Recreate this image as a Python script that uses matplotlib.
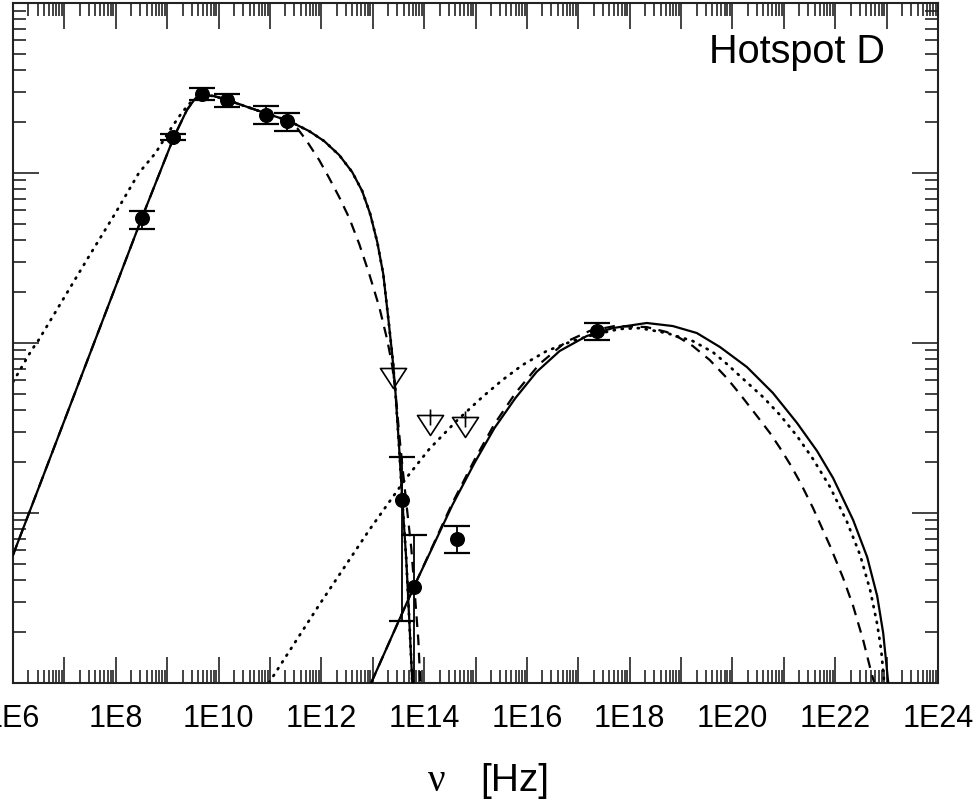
import numpy as np
import matplotlib
matplotlib.use("Agg")
import matplotlib.pyplot as plt
from matplotlib.path import Path
from matplotlib.ticker import LogLocator, FuncFormatter, NullFormatter

# ---------------------------------------------------------------
# Observed fluxes: log10(nu [Hz]), log10(nu F_nu) with error range
# ---------------------------------------------------------------
obs_log_nu = [8.51, 9.117, 9.682, 10.158, 10.918, 11.339, 13.569, 13.809, 14.634, 17.357]
obs_log_flux = [-12.268, -11.788, -11.539, -11.572, -11.661, -11.694, -13.925, -14.439, -14.156, -12.931]
obs_log_hi = [-12.223, -11.772, -11.504, -11.537, -11.608, -11.651, -13.671, -14.131, -14.077, -12.884]
obs_log_lo = [-12.329, -11.808, -11.572, -11.614, -11.715, -11.753, -14.635, -15.300, -14.235, -12.984]

# Upper limits
ul_log_nu = [13.386, 14.115, 14.803]
ul_log_flux = [-13.151, -13.425, -13.435]

# ---------------------------------------------------------------
# Model curves (log10 nu, log10 nu F_nu)
# ---------------------------------------------------------------
# solid: synchrotron + inverse Compton
solid_sync_lognu = [6.0, 8.507, 9.131, 9.384, 9.540, 9.696, 9.910, 10.164, 10.905, 11.372,
                    11.762, 12.055, 12.347, 12.600, 12.795, 12.951, 13.088, 13.205, 13.302,
                    13.380, 13.439, 13.517, 13.575, 13.653, 13.711, 13.770]
solid_sync_logf = [-14.249, -12.266, -11.790, -11.631, -11.566, -11.543, -11.549, -11.572,
                   -11.649, -11.696, -11.755, -11.814, -11.896, -11.996, -12.108, -12.243,
                   -12.408, -12.596, -12.855, -13.072, -13.278, -13.631, -13.925, -14.278,
                   -14.631, -15.0]
solid_ic_lognu = [12.971, 13.809, 14.550, 14.979, 15.369, 15.778, 16.188, 16.636, 17.162,
                  17.669, 18.332, 18.839, 19.306, 19.755, 20.281, 20.788, 21.256, 21.646,
                  21.958, 22.348, 22.621, 22.816, 22.933, 23.031]
solid_ic_logf = [-15.0, -14.431, -13.955, -13.708, -13.502, -13.325, -13.172, -13.049, -12.961,
                 -12.914, -12.884, -12.902, -12.943, -13.025, -13.143, -13.296, -13.472,
                 -13.637, -13.796, -14.043, -14.261, -14.490, -14.708, -15.0]

# dashed: synchrotron + inverse Compton
dashed_sync_lognu = [6.0, 8.507, 9.131, 9.384, 9.540, 9.696, 9.910, 10.164, 10.905, 11.372,
                     11.528, 11.704, 11.957, 12.152, 12.347, 12.542, 12.737, 12.932, 13.127,
                     13.283, 13.380, 13.439, 13.517, 13.595, 13.673, 13.750, 13.828, 13.887,
                     13.926]
dashed_sync_logf = [-14.249, -12.266, -11.790, -11.631, -11.566, -11.543, -11.549, -11.572,
                    -11.649, -11.696, -11.737, -11.808, -11.925, -12.031, -12.143, -12.266,
                    -12.419, -12.596, -12.790, -12.984, -13.137, -13.278, -13.543, -13.778,
                    -13.996, -14.208, -14.513, -14.749, -15.0]
dashed_ic_lognu = [12.971, 13.809, 14.550, 14.979, 15.369, 15.778, 16.246, 16.753, 17.220,
                   17.708, 18.328, 18.718, 18.972, 19.226, 19.558, 19.891, 20.145, 20.476,
                   20.729, 20.924, 21.119, 21.314, 21.567, 21.899, 22.153, 22.348, 22.543,
                   22.679, 22.757]
dashed_ic_logf = [-15.0, -14.431, -13.943, -13.690, -13.478, -13.296, -13.125, -12.996, -12.931,
                  -12.902, -12.908, -12.937, -12.972, -13.019, -13.102, -13.208, -13.302,
                  -13.431, -13.531, -13.619, -13.714, -13.819, -13.972, -14.196, -14.384,
                  -14.549, -14.749, -14.913, -15.0]

# dotted: synchrotron + inverse Compton
dotted_sync_lognu = [6.0, 6.363, 6.499, 7.474, 7.994, 8.448, 8.774, 9.092, 9.267, 9.423,
                     9.540, 9.696, 9.910, 10.164, 10.905, 11.372, 11.762, 12.055, 12.347,
                     12.600, 12.795, 12.951, 13.088, 13.205, 13.302, 13.380, 13.439, 13.517,
                     13.575, 13.653, 13.711, 13.770]
dotted_sync_logf = [-13.231, -13.043, -12.984, -12.494, -12.237, -12.002, -11.884, -11.731,
                    -11.655, -11.596, -11.566, -11.543, -11.549, -11.572, -11.649, -11.696,
                    -11.755, -11.814, -11.896, -11.996, -12.108, -12.243, -12.408, -12.596,
                    -12.855, -13.072, -13.278, -13.631, -13.925, -14.278, -14.631, -15.0]
dotted_ic_lognu = [10.982, 11.957, 12.932, 13.653, 14.102, 14.628, 15.135, 15.525, 15.915,
                   16.383, 16.889, 17.279, 17.805, 18.195, 18.718, 19.226, 19.616, 19.891,
                   20.145, 20.593, 20.924, 21.256, 21.567, 21.899, 22.230, 22.484, 22.679,
                   22.816, 22.894, 22.953]
dotted_ic_logf = [-15.0, -14.543, -14.102, -13.796, -13.625, -13.461, -13.319, -13.219, -13.131,
                  -13.049, -12.990, -12.955, -12.919, -12.914, -12.943, -12.990, -13.055,
                  -13.125, -13.196, -13.319, -13.425, -13.549, -13.684, -13.849, -14.055,
                  -14.249, -14.455, -14.655, -14.808, -15.0]

x_decades = list(range(6, 25))
x_label_decades = list(range(6, 25, 2))
y_min_exp, y_max_exp = -15, -11

# ---------------------------------------------------------------
fig = plt.figure(figsize=(9.73, 8.01), dpi=100)
ax = fig.add_axes([0.01336, 0.1477, 0.9507, 0.8489])

p = lambda a: 10.0 ** np.asarray(a)

lw = 1.6
dash_style = dict(color="black", lw=lw, linestyle=(0, (4.8, 3.4)))
dot_style = dict(color="black", lw=2.0, linestyle=(0, (0.4, 2.5)), dash_capstyle="round")
solid_style = dict(color="black", lw=lw, linestyle="-", solid_joinstyle="round")

ax.plot(p(dotted_sync_lognu), p(dotted_sync_logf), **dot_style, zorder=2)
ax.plot(p(dotted_ic_lognu), p(dotted_ic_logf), **dot_style, zorder=2)
ax.plot(p(dashed_sync_lognu), p(dashed_sync_logf), **dash_style, zorder=2)
ax.plot(p(dashed_ic_lognu), p(dashed_ic_logf), **dash_style, zorder=2)
ax.plot(p(solid_sync_lognu), p(solid_sync_logf), **solid_style, zorder=3)
ax.plot(p(solid_ic_lognu), p(solid_ic_logf), **solid_style, zorder=3)

# detections with error bars
nu = p(obs_log_nu)
f = p(obs_log_flux)
yerr = np.vstack([f - p(obs_log_lo), p(obs_log_hi) - f])
ax.errorbar(nu, f, yerr=yerr, fmt="o", color="black", ms=9.8, capsize=9.7,
            elinewidth=1.3, capthick=1.6, zorder=5)

# upper limits: open triangle hanging below a short bar
ul_path = Path(
    [(-0.65, 0.0), (0.65, 0.0), (0.0, -1.0), (-0.65, 0.0), (0.0, 0.3), (0.0, -0.5)],
    [Path.MOVETO, Path.LINETO, Path.LINETO, Path.CLOSEPOLY, Path.MOVETO, Path.LINETO],
)
ax.plot(p(ul_log_nu), p(ul_log_flux), linestyle="none", marker=ul_path, ms=28.8,
        markerfacecolor="none", markeredgecolor="black", markeredgewidth=1.2, zorder=5)

ax.set_xscale("log")
ax.set_yscale("log")
ax.set_xlim(10.0 ** x_decades[0], 10.0 ** x_decades[-1])
ax.set_ylim(10.0 ** y_min_exp, 10.0 ** y_max_exp)

ax.xaxis.set_major_locator(LogLocator(base=10, numticks=40))
ax.xaxis.set_minor_locator(LogLocator(base=10, subs=np.arange(2, 10), numticks=400))
ax.yaxis.set_major_locator(LogLocator(base=10, numticks=40))
ax.yaxis.set_minor_locator(LogLocator(base=10, subs=np.arange(2, 10), numticks=400))


def fmt_x(v, pos):
    e = int(round(np.log10(v)))
    return f"1E{e}" if e in x_label_decades else ""


ax.xaxis.set_major_formatter(FuncFormatter(fmt_x))
ax.xaxis.set_minor_formatter(NullFormatter())
ax.yaxis.set_minor_formatter(NullFormatter())

ax.tick_params(axis="both", which="both", direction="in", top=True, right=True,
               labelleft=False, width=1.2, color="#222222")
ax.tick_params(axis="both", which="major", length=19)
ax.tick_params(axis="both", which="minor", length=9.5)
ax.tick_params(axis="x", which="major", pad=15, labelsize=22)
for lab in ax.get_xticklabels():
    lab.set_family("Liberation Sans")

for s in ax.spines.values():
    s.set_linewidth(1.5)
    s.set_color("#222222")

ax.text(0.943, 0.911, "Hotspot D", transform=ax.transAxes, ha="right", va="baseline",
        fontsize=28.5, family="Liberation Sans")

fig.text(0.449, 0.013, "ν", ha="center", va="baseline", fontsize=28, family="Liberation Serif")
fig.text(0.529, 0.013, "[Hz]", ha="center", va="baseline", fontsize=28, family="Liberation Sans")

fig.savefig("out.png", dpi=100)
